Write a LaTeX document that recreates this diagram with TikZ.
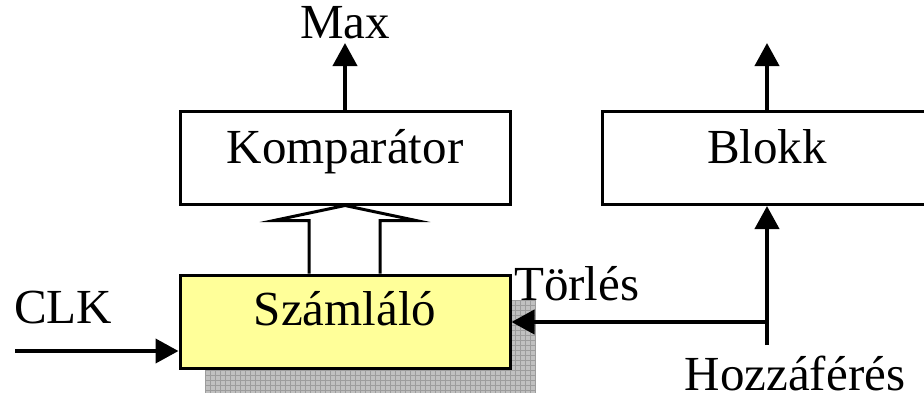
\documentclass[tikz,border=0pt]{standalone}
\usepackage{fontspec}
\setmainfont{Liberation Serif}
\usetikzlibrary{arrows.meta,calc}
\definecolor{cntfill}{HTML}{FFFF99}
\definecolor{shadefill}{HTML}{C0C0C0}
\definecolor{shadegrid}{HTML}{9C9C9C}

\begin{document}
\begin{tikzpicture}[x=1pt,y=-1pt,
  font=\fontsize{49}{56}\selectfont,
  box/.style={draw,line width=3pt,minimum width=330pt,minimum height=93pt,
              inner sep=0pt,text depth=0pt},
  lab/.style={inner sep=0pt},
  arr/.style={-{Triangle[length=23pt,width=24pt]},line width=4pt},
  bus/.style={line width=3pt,fill=white,line join=miter}]
  \clip (0,0) rectangle (924,400);
  % shadow under the counter
  \fill[shadefill] (205,300) rectangle (535,393);
  \foreach \gx in {205,210,...,535}
     \draw[shadegrid,line width=0.7pt] (\gx,300) -- (\gx,393);
  \foreach \gy in {300,305,...,393}
     \draw[shadegrid,line width=0.7pt] (205,\gy) -- (535,\gy);
  % blocks
  \node[box,text height=11pt] (komp) at (345,157.5) {Komparátor};
  \node[box,text height=10pt] (blokk) at (767,158) {Blokk};
  \node[box,fill=cntfill,text height=7pt] (szaml) at (345,321.5) {Számláló};
  % labels
  \node[lab,anchor=base] (max) at (345,38) {Max};
  \node[lab,anchor=base west] (clk) at (14,323) {CLK};
  \node[lab,anchor=base west] (torles) at (514,300) {Törlés};
  \node[lab,anchor=base] (hozz) at (795,390) {Hozzáférés};
  \coordinate (maxtip) at (345,43);
  \coordinate (blokktip) at (767,43);
  \coordinate (clkin) at (15,351);
  \coordinate (hozzin) at (767,345);
  \coordinate (branch) at (767,322);
  % wide bus from counter to comparator
  \draw[bus] ($(szaml.north)+(-36,0)$) -- ++(0,-53) -- ++(-35,0)
     -- (komp.south) -- ($(szaml.north)+(71,-53)$) -- ++(-36,0)
     -- ($(szaml.north)+(35,0)$);
  % signal arrows
  \draw[arr] (komp.north) -- (maxtip);
  \draw[arr] (blokk.north) -- (blokktip);
  \draw[arr] (clkin) -- (clkin -| szaml.west);
  \draw[arr] (hozzin) -- (blokk.south);
  \draw[arr] (branch) -- (branch -| szaml.east);
\end{tikzpicture}
\end{document}
